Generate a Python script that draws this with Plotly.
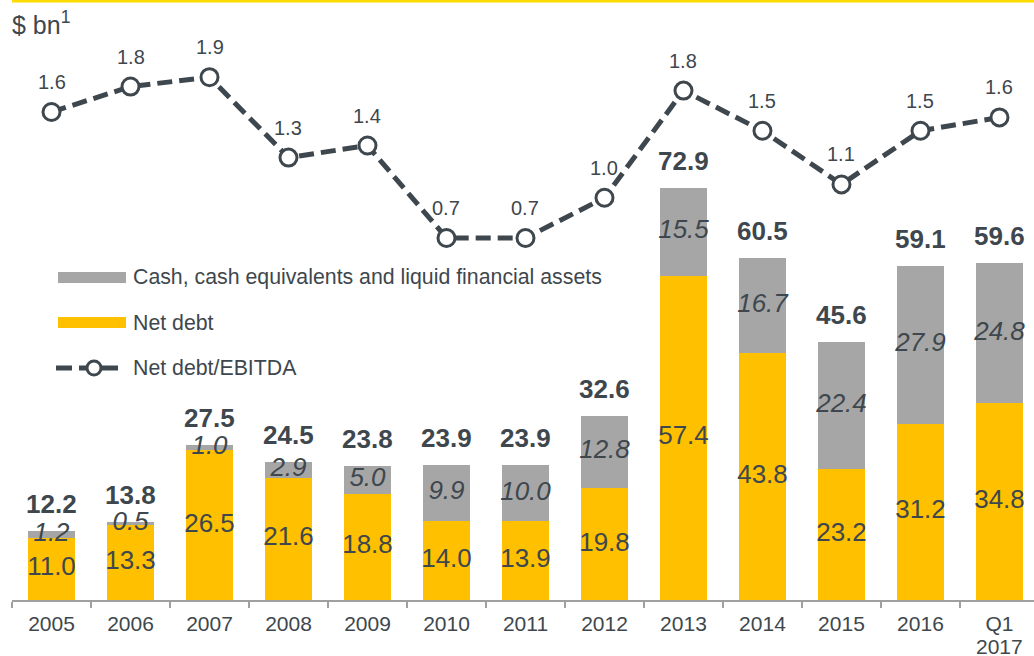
import plotly.graph_objects as go

categories = ["2005", "2006", "2007", "2008", "2009", "2010", "2011", "2012",
              "2013", "2014", "2015", "2016", "Q1 2017"]
tick_first_line = ["2005", "2006", "2007", "2008", "2009", "2010", "2011", "2012",
                   "2013", "2014", "2015", "2016", "Q1"]
tick_second_line = ["", "", "", "", "", "", "", "", "", "", "", "", "2017"]
net_debt = [11.0, 13.3, 26.5, 21.6, 18.8, 14.0, 13.9, 19.8, 57.4, 43.8, 23.2, 31.2, 34.8]
cash = [1.2, 0.5, 1.0, 2.9, 5.0, 9.9, 10.0, 12.8, 15.5, 16.7, 22.4, 27.9, 24.8]
totals = [12.2, 13.8, 27.5, 24.5, 23.8, 23.9, 23.9, 32.6, 72.9, 60.5, 45.6, 59.1, 59.6]
ratio = [1.64, 1.83, 1.9, 1.3, 1.39, 0.7, 0.7, 1.0, 1.8, 1.5, 1.1, 1.5, 1.6]

YELLOW = "#FFC000"
GRAY = "#A6A6A6"
TXT = "#3E474D"
FONT = "Arial, Liberation Sans, sans-serif"

# plot-area geometry helpers (pixels -> paper)
PL, PW, PH = 12, 1022, 600
def px(x):
    return (x - PL) / PW
def py(y):
    return (PH - y) / PH

fig = go.Figure()

fig.add_trace(go.Bar(x=categories, y=net_debt, marker=dict(color=YELLOW, line=dict(width=0)),
                     name="Net debt", showlegend=False, hoverinfo="skip"))
fig.add_trace(go.Bar(x=categories, y=cash, marker=dict(color=GRAY, line=dict(width=0)),
                     name="Cash", showlegend=False, hoverinfo="skip"))

# segment labels
fig.add_trace(go.Scatter(x=categories, y=[v / 2 for v in net_debt], mode="text",
                         text=[f"{v:.1f}" for v in net_debt], textposition="middle center",
                         textfont=dict(family=FONT, size=26, color=TXT),
                         showlegend=False, hoverinfo="skip"))
fig.add_trace(go.Scatter(x=categories, y=[n + c / 2 for n, c in zip(net_debt, cash)], mode="text",
                         text=[f"<i>{v:.1f}</i>" for v in cash], textposition="middle center",
                         textfont=dict(family=FONT, size=26, color=TXT),
                         showlegend=False, hoverinfo="skip"))

# ratio line
fig.add_trace(go.Scatter(x=categories, y=ratio, yaxis="y2", mode="lines+markers",
                         line=dict(color=TXT, width=5, dash="15px,7px"),
                         marker=dict(size=17, color="white", line=dict(color=TXT, width=3)),
                         showlegend=False, hoverinfo="skip"))

annotations = []
for i, t in enumerate(totals):
    annotations.append(dict(x=i, y=t, xref="x", yref="y", text=f"<b>{t:.1f}</b>",
                            showarrow=False, yanchor="bottom", yshift=10,
                            font=dict(family=FONT, size=26, color=TXT)))
for i, r in enumerate(ratio):
    annotations.append(dict(x=i, y=r, xref="x", yref="y2", text=f"{r:.1f}",
                            showarrow=False, yanchor="bottom", yshift=17,
                            font=dict(family=FONT, size=20, color=TXT)))
# second line of the category labels (tighter line spacing than tick labels allow)
for i, s in enumerate(tick_second_line):
    if s:
        annotations.append(dict(x=i, y=py(646.5), xref="x", yref="paper", text=s,
                                showarrow=False, yanchor="middle",
                                font=dict(family=FONT, size=21, color=TXT)))

# unit label
annotations.append(dict(x=px(10), y=py(23), xref="paper", yref="paper", text="$ bn<sup>1</sup>",
                        showarrow=False, xanchor="left", yanchor="middle",
                        font=dict(family=FONT, size=25, color=TXT)))

# legend texts
legend_items = ["Cash, cash equivalents and liquid financial assets", "Net debt", "Net debt/EBITDA"]
legend_y = [277, 323, 368]
for txt, ly in zip(legend_items, legend_y):
    annotations.append(dict(x=px(131), y=py(ly), xref="paper", yref="paper", text=txt,
                            showarrow=False, xanchor="left", yanchor="middle",
                            font=dict(family=FONT, size=21.3, color=TXT)))

shapes = [
    # top yellow rule
    dict(type="rect", xref="paper", yref="paper", x0=px(12), x1=px(1034), y0=py(2.5), y1=py(0),
         fillcolor="#FFDA00", line=dict(width=0)),
    # legend swatches
    dict(type="rect", xref="paper", yref="paper", x0=px(58), x1=px(126), y0=py(283), y1=py(272),
         fillcolor=GRAY, line=dict(width=0)),
    dict(type="rect", xref="paper", yref="paper", x0=px(58), x1=px(126), y0=py(328), y1=py(317),
         fillcolor=YELLOW, line=dict(width=0)),
    dict(type="line", xref="paper", yref="paper", x0=px(56), x1=px(118), y0=py(368), y1=py(368),
         line=dict(color=TXT, width=5, dash="16px,7px")),
    dict(type="circle", xref="paper", yref="paper", x0=px(87), x1=px(101), y0=py(375), y1=py(361),
         fillcolor="white", line=dict(color=TXT, width=3)),
]

fig.update_layout(
    width=1034, height=656,
    margin=dict(l=PL, r=0, t=0, b=56),
    barmode="stack", bargap=0.405,
    plot_bgcolor="white", paper_bgcolor="white",
    font=dict(family=FONT, color=TXT),
    xaxis=dict(type="category", range=[-0.5, 12.437], showline=True, linecolor="#A0A0A0",
               linewidth=1.5, ticks="outside", tickson="boundaries", ticklen=6,
               tickcolor="#A0A0A0", tickwidth=1.5, showgrid=False, ticklabelstandoff=4,
               automargin=False, tickvals=categories, ticktext=tick_first_line,
               tickfont=dict(family=FONT, size=21, color=TXT)),
    yaxis=dict(range=[0, 106.19], visible=False, showgrid=False, zeroline=False,
               automargin=False),
    yaxis2=dict(range=[-2.0015, 2.476], overlaying="y", visible=False, showgrid=False,
                zeroline=False, automargin=False),
    annotations=annotations,
    shapes=shapes,
    showlegend=False,
)

fig.write_html("out.html", config={"displayModeBar": False},
               post_script="document.body.style.margin='0';")
